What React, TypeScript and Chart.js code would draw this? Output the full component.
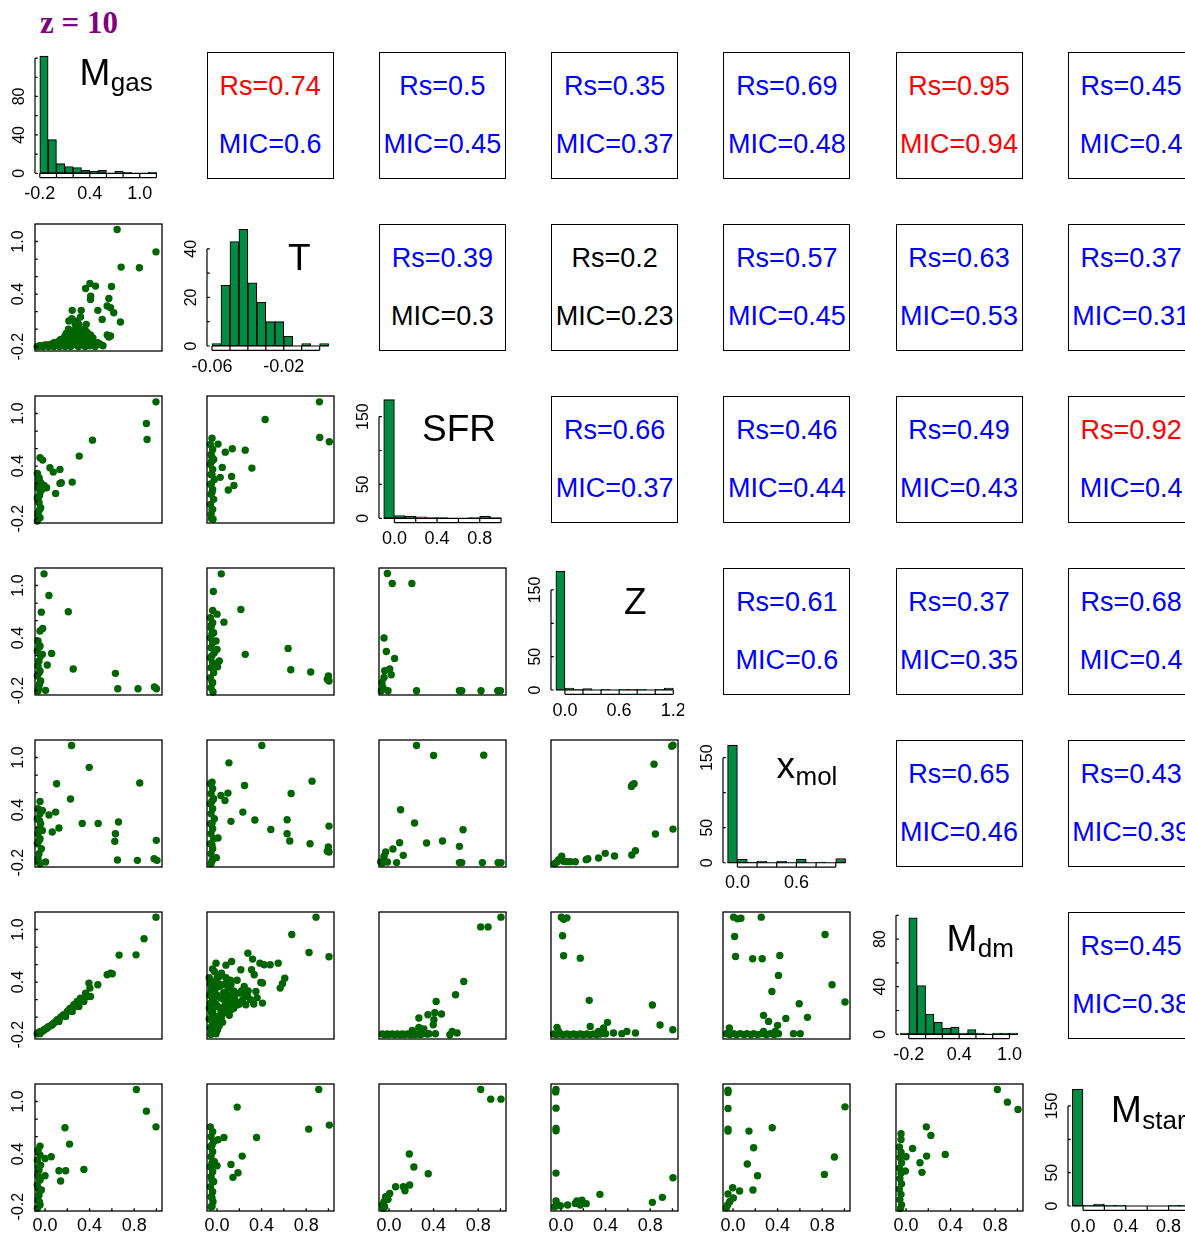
import React, { useEffect, useRef } from "react";
import { Chart, registerables } from "chart.js";
Chart.register(...registerables);

type Pt = [number, number];

// ---------------- Histogram data (diagonal) ----------------
const breaks_Mgas = [-0.2, -0.1, 0.0, 0.1, 0.2, 0.3, 0.4, 0.5, 0.6, 0.7, 0.8, 0.9, 1.0, 1.1, 1.2];
const counts_Mgas = [122, 35, 10, 7, 6, 3, 2, 3, 0, 2, 1, 0, 0, 1];
const breaks_T = [-0.06, -0.055, -0.05, -0.045, -0.04, -0.035, -0.03, -0.025, -0.02, -0.015, -0.01, -0.005, 0.0, 0.005];
const counts_T = [1, 25, 43, 48, 26, 18, 10, 10, 4, 0, 1, 0, 1];
const breaks_SFR = [-0.1, 0.0, 0.1, 0.2, 0.3, 0.4, 0.5, 0.6, 0.7, 0.8, 0.9, 1.0];
const counts_SFR = [175, 4, 3, 2, 1, 1, 0, 0, 1, 3, 1];
const breaks_Z = [-0.1, 0.0, 0.1, 0.2, 0.3, 0.4, 0.5, 0.6, 0.7, 0.8, 0.9, 1.0, 1.1, 1.2];
const counts_Z = [178, 3, 1, 2, 0, 1, 0, 1, 1, 1, 0, 1, 3];
const breaks_xmol = [-0.1, 0.0, 0.1, 0.2, 0.3, 0.4, 0.5, 0.6, 0.7, 0.8, 0.9, 1.0, 1.1];
const counts_xmol = [168, 5, 1, 2, 0, 2, 0, 5, 0, 1, 0, 6];
const breaks_Mdm = [-0.3, -0.2, -0.1, 0.0, 0.1, 0.2, 0.3, 0.4, 0.5, 0.6, 0.7, 0.8, 0.9, 1.0, 1.1];
const counts_Mdm = [1, 98, 41, 17, 10, 5, 6, 1, 4, 1, 0, 1, 1, 1];
const breaks_Mstar = [-0.1, 0.0, 0.1, 0.2, 0.3, 0.4, 0.5, 0.6, 0.7, 0.8, 0.9, 1.0];
const counts_Mstar = [175, 1, 3, 1, 1, 0, 0, 0, 0, 1, 1];

// histogram axis ticks / labels
const xTicks_Mgas = [-0.2, 0.0, 0.2, 0.4, 0.6, 0.8, 1.0, 1.2];
const xLabels_Mgas = [-0.2, 0.4, 1.0];
const xTicks_T = [-0.06, -0.05, -0.04, -0.03, -0.02, -0.01, 0.0];
const xLabels_T = [-0.06, -0.02];
const xTicks_SFR = [0.0, 0.2, 0.4, 0.6, 0.8, 1.0];
const xLabels_SFR = [0.0, 0.4, 0.8];
const xTicks_Z = [0.0, 0.2, 0.4, 0.6, 0.8, 1.0, 1.2];
const xLabels_Z = [0.0, 0.6, 1.2];
const xTicks_xmol = [0.0, 0.2, 0.4, 0.6, 0.8, 1.0];
const xLabels_xmol = [0.0, 0.6];
const xTicks_Mdm = [-0.2, 0.0, 0.2, 0.4, 0.6, 0.8, 1.0];
const xLabels_Mdm = [-0.2, 0.4, 1.0];
const xTicks_Mstar = [0.0, 0.2, 0.4, 0.6, 0.8, 1.0];
const xLabels_Mstar = [0.0, 0.4, 0.8];
const yTicks_Mgas = [0, 20, 40, 60, 80, 100, 120];
const yLabels_Mgas = [0, 40, 80];
const yTicks_T = [0, 10, 20, 30, 40];
const yLabels_T = [0, 20, 40];
const yTicks_150 = [0, 50, 100, 150];
const yLabels_150 = [0, 50, 150];
const yTicks_Mdm = [0, 20, 40, 60, 80, 100];
const yLabels_Mdm = [0, 40, 80];

// scatter axes
const scatterXTicks = [0.0, 0.2, 0.4, 0.6, 0.8, 1.0];
const scatterXLabels = [0.0, 0.4, 0.8];
const scatterYTicks = [-0.2, 0.0, 0.2, 0.4, 0.6, 0.8, 1.0];
const scatterYLabels = [-0.2, 0.4, 1.0];

// ---------------- Correlation boxes (upper triangle) ----------------
const rsValues = [
  [0.74, 0.5, 0.35, 0.69, 0.95, 0.45],
  [0.39, 0.2, 0.57, 0.63, 0.37],
  [0.66, 0.46, 0.49, 0.92],
  [0.61, 0.37, 0.68],
  [0.65, 0.43],
  [0.45],
];
const micValues = [
  [0.6, 0.45, 0.37, 0.48, 0.94, 0.4],
  [0.3, 0.23, 0.45, 0.53, 0.31],
  [0.37, 0.44, 0.43, 0.4],
  [0.6, 0.35, 0.4],
  [0.46, 0.39],
  [0.38],
];
const rsColors = [
  ["red", "blue", "blue", "blue", "red", "blue"],
  ["blue", "black", "blue", "blue", "blue"],
  ["blue", "blue", "blue", "red"],
  ["blue", "blue", "blue"],
  ["blue", "blue"],
  ["blue"],
];
const micColors = [
  ["blue", "blue", "blue", "blue", "red", "blue"],
  ["black", "black", "blue", "blue", "blue"],
  ["blue", "blue", "blue", "blue"],
  ["blue", "blue", "blue"],
  ["blue", "blue"],
  ["blue"],
];

// ---------------- Scatter data (lower triangle): [x, y] ----------------
const sc_T_Mgas: Pt[] = [
  [0.647, 1.137], [0.996, 0.882], [0.683, 0.708], [0.847, 0.7], [0.403, 0.521], [0.364, 0.464], [0.453, 0.491],
  [0.597, 0.487], [0.41, 0.377], [0.408, 0.339], [0.573, 0.35], [0.558, 0.263], [0.588, 0.244], [0.617, 0.187],
  [0.474, 0.214], [0.677, 0.081], [0.513, 0.111], [0.244, 0.214], [0.325, 0.214], [0.214, 0.092], [0.319, 0.138],
  [0.289, 0.092], [0.304, 0.054], [0.37, 0.054], [0.558, -0.068], [0.588, -0.079], [0.573, -0.09],
  [-0.054, -0.193], [-0.009, -0.193], [0.05, -0.174], [0.11, -0.166], [0.155, -0.155], [0.2, -0.136], [0.229, -0.117],
  [0.259, -0.098], [0.304, -0.09], [0.349, -0.079], [0.379, -0.117], [0.423, -0.136], [0.468, -0.155], [0.498, -0.174],
  [0.2, -0.06], [0.244, -0.022], [0.274, -0.003], [0.319, -0.041], [0.14, -0.117], [0.08, -0.155], [0.02, -0.182],
  [-0.039, -0.189], [0.334, -0.155], [0.394, -0.166], [0.289, -0.155], [0.214, -0.182], [0.364, -0.022], [0.408, -0.068],
  [0.17, -0.1], [0.26, -0.14], [0.22, -0.16], [0.12, -0.185], [0.3, -0.12], [0.44, -0.17], [0.25, -0.05], [0.18, -0.08],
  [0.35, -0.11], [0.28, -0.18], [0.4, -0.19], [0.06, -0.19], [0.23, -0.02], [0.28, 0.02],
  [-0.07, -0.2], [-0.02, -0.2], [0.03, -0.2], [0.08, -0.2], [0.13, -0.2], [0.18, -0.2], [0.23, -0.2], [0.3, -0.2],
  [0.36, -0.2], [0.45, -0.2], [0.52, -0.19], [0.0, -0.18], [0.1, -0.18], [0.16, -0.17], [0.25, -0.17], [0.33, -0.17],
  [0.42, -0.18], [0.48, -0.16], [0.15, -0.13], [0.22, -0.13], [0.28, -0.1], [0.33, -0.13], [0.26, -0.07], [0.31, -0.01],
  [0.21, 0.0], [0.27, 0.06], [0.24, 0.12], [0.35, 0.0], [0.38, -0.04], [0.43, -0.1], [0.19, -0.05], [0.12, -0.14],
];
const sc_SFR_Mgas: Pt[] = [
  [0.996, 1.133], [0.91, 0.886], [0.916, 0.704], [0.426, 0.696], [0.307, 0.514], [0.134, 0.362], [0.044, 0.381],
  [0.074, 0.331], [0.146, 0.21], [0.134, 0.202], [0.244, 0.217], [0.095, 0.088], [0.014, 0.153], [-0.009, 0.18],
  [-0.045, 0.495], [-0.021, 0.468],
  [-0.069, 0.316], [-0.054, 0.267], [-0.039, 0.21], [-0.063, 0.153], [-0.045, 0.096], [-0.069, 0.039], [-0.054, -0.018],
  [-0.039, -0.075], [-0.063, -0.132], [-0.045, -0.189], [-0.069, -0.227], [-0.033, 0.172], [-0.024, 0.134],
  [-0.06, 0.0], [-0.05, -0.1], [-0.06, 0.2], [-0.05, 0.06], [-0.065, -0.16], [-0.055, 0.25],
];
const sc_SFR_T: Pt[] = [
  [0.919, 1.133], [0.432, 0.932], [0.922, 0.727], [1.008, 0.677], [-0.045, 0.719], [0.009, 0.651], [0.137, 0.597],
  [0.074, 0.559], [0.253, 0.582], [0.047, 0.385], [0.313, 0.377], [0.131, 0.282], [0.029, 0.271], [0.152, 0.179],
  [0.101, 0.126],
  [-0.06, 0.647], [-0.039, 0.59], [-0.054, 0.533], [-0.03, 0.476], [-0.06, 0.419], [-0.039, 0.362], [-0.054, 0.305],
  [-0.024, 0.248], [-0.06, 0.191], [-0.039, 0.134], [-0.054, 0.077], [-0.03, 0.02], [-0.06, -0.037], [-0.039, -0.094],
  [-0.054, -0.151], [-0.036, -0.208], [-0.045, 0.5], [-0.045, 0.3], [-0.045, 0.1], [-0.045, -0.1], [-0.05, 0.45],
  [-0.05, 0.2], [-0.05, -0.2],
];
const sc_Z_Mgas: Pt[] = [
  [-0.009, 1.133], [0.035, 0.886], [0.209, 0.7], [-0.033, 0.696], [-0.021, 0.51], [-0.045, 0.48], [0.059, 0.225],
  [0.02, 0.092], [0.253, 0.046], [0.632, -0.003], [0.653, -0.178], [0.835, -0.178], [0.982, -0.159], [1.0, -0.178],
  [0.005, -0.197],
  [-0.063, 0.366], [-0.045, 0.309], [-0.069, 0.252], [-0.039, 0.195], [-0.054, 0.138], [-0.063, 0.081], [-0.045, 0.024],
  [-0.069, -0.033], [-0.039, -0.09], [-0.054, -0.147], [-0.063, -0.204], [-0.024, 0.214], [-0.055, 0.0], [-0.06, -0.18],
  [-0.05, 0.3], [-0.05, -0.12],
];
const sc_Z_T: Pt[] = [
  [0.038, 1.133], [-0.033, 0.932], [-0.039, 0.715], [0.0, 0.673], [0.062, 0.582], [0.214, 0.727], [0.253, 0.214],
  [0.638, 0.282], [0.662, 0.039], [0.841, 0.012], [1.0, -0.033], [1.005, -0.09], [0.99, -0.071], [0.02, 0.138],
  [0.005, 0.073], [0.0, 0.271], [-0.009, 0.366],
  [-0.06, 0.632], [-0.039, 0.575], [-0.054, 0.518], [-0.03, 0.461], [-0.06, 0.404], [-0.039, 0.347], [-0.054, 0.29],
  [-0.024, 0.233], [-0.06, 0.176], [-0.039, 0.119], [-0.054, 0.062], [-0.03, 0.005], [-0.06, -0.052], [-0.039, -0.109],
  [-0.054, -0.166], [-0.036, -0.216], [-0.045, 0.45], [-0.045, 0.2], [-0.045, -0.1], [-0.05, 0.55],
];
const sc_Z_SFR: Pt[] = [
  [-0.015, 1.137], [0.029, 1.023], [0.205, 1.023], [-0.045, 0.4], [-0.024, 0.247], [0.05, 0.168], [-0.039, 0.027],
  [0.006, 0.046], [0.02, -0.018], [-0.045, -0.049], [-0.063, -0.106], [-0.054, -0.163], [-0.069, -0.201], [-0.009, -0.201],
  [0.247, -0.201], [0.632, -0.201], [0.653, -0.201], [0.826, -0.201], [0.976, -0.201], [1.0, -0.201],
];
const sc_xmol_Mgas: Pt[] = [
  [0.238, 1.137], [0.397, 0.888], [0.104, 0.7], [0.85, 0.709], [0.229, 0.526], [-0.045, 0.499], [-0.024, 0.396],
  [0.095, 0.377], [0.035, 0.343], [0.334, 0.248], [0.477, 0.248], [0.659, 0.263], [0.125, 0.195], [0.065, 0.149],
  [0.632, 0.13], [0.626, 0.043], [0.999, 0.054], [0.65, -0.17], [0.829, -0.174], [0.979, -0.155], [1.005, -0.174],
  [0.005, -0.193],
  [-0.063, 0.415], [-0.045, 0.358], [-0.069, 0.301], [-0.039, 0.244], [-0.054, 0.187], [-0.063, 0.13], [-0.045, 0.073],
  [-0.069, 0.016], [-0.033, -0.041], [-0.054, -0.098], [-0.063, -0.155], [-0.045, -0.212], [-0.024, 0.168],
  [-0.055, 0.05], [-0.06, -0.19], [-0.05, 0.28],
];
const sc_xmol_T: Pt[] = [
  [0.402, 1.137], [0.107, 0.939], [0.853, 0.73], [-0.045, 0.719], [0.247, 0.681], [0.665, 0.59], [0.098, 0.594],
  [0.035, 0.567], [0.071, 0.51], [0.232, 0.377], [0.125, 0.271], [0.34, 0.286], [0.629, 0.29], [0.483, 0.179],
  [0.629, 0.13], [0.653, 0.046], [1.005, 0.217], [0.835, 0.016], [0.999, -0.022], [1.005, -0.079], [0.99, -0.07],
  [0.009, 0.081], [-0.006, -0.143],
  [-0.06, 0.7], [-0.039, 0.643], [-0.054, 0.586], [-0.03, 0.529], [-0.06, 0.472], [-0.039, 0.415], [-0.054, 0.358],
  [-0.024, 0.301], [-0.06, 0.244], [-0.039, 0.187], [-0.054, 0.13], [-0.03, 0.073], [-0.06, 0.016], [-0.039, -0.041],
  [-0.054, -0.098], [-0.036, -0.155], [-0.054, -0.212], [-0.045, 0.5], [-0.045, 0.25], [-0.045, 0.0], [-0.045, -0.18],
];
const sc_xmol_SFR: Pt[] = [
  [0.247, 1.137], [0.4, 1.023], [0.85, 1.027], [0.104, 0.404], [0.229, 0.252], [0.665, 0.176], [0.337, 0.024],
  [0.48, 0.046], [0.632, -0.014], [0.095, 0.027], [0.035, -0.045], [0.128, -0.117], [-0.03, -0.079], [-0.045, -0.128],
  [-0.051, -0.174], [-0.06, -0.204], [-0.075, -0.193], [-0.015, -0.193], [0.068, -0.2], [0.632, -0.2], [0.653, -0.2],
  [0.838, -0.2], [0.979, -0.2], [1.005, -0.2],
];
const sc_xmol_Z: Pt[] = [
  [0.994, 1.129], [1.005, 1.141], [0.835, 0.924], [0.641, 0.689], [0.632, 0.67], [0.656, 0.7], [1.005, 0.183],
  [0.847, 0.126], [0.668, -0.064], [0.635, -0.113], [0.48, -0.124], [0.397, -0.094], [0.337, -0.147], [0.241, -0.155],
  [0.226, -0.166], [0.006, -0.128], [-0.021, -0.166], [-0.036, -0.193], [-0.057, -0.212], [0.053, -0.189],
  [0.083, -0.189], [0.128, -0.189], [0.023, -0.185],
];
const sc_Mdm_Mgas: Pt[] = [
  [0.996, 1.141], [0.889, 0.894], [0.665, 0.708], [0.817, 0.711], [0.588, 0.502], [0.558, 0.483], [0.603, 0.495],
  [0.474, 0.369], [0.394, 0.388], [0.403, 0.331], [0.408, 0.236], [0.364, 0.274], [0.319, 0.217], [0.289, 0.179],
  [0.259, 0.141], [0.229, 0.103], [0.2, 0.065], [0.17, 0.027], [0.14, 0.0], [0.11, -0.03], [0.08, -0.068],
  [0.05, -0.098], [0.02, -0.125], [-0.009, -0.144], [-0.039, -0.163], [-0.063, -0.182], [0.349, 0.179], [0.304, 0.122],
  [0.244, 0.065], [0.185, 0.008], [0.125, -0.049], [0.065, -0.087], [0.005, -0.136], [-0.045, -0.189], [0.379, 0.236],
  [0.27, 0.12], [0.22, 0.09], [0.16, 0.02], [0.1, -0.05], [0.03, -0.11], [-0.02, -0.16], [-0.05, -0.17], [-0.07, -0.19],
];
const sc_Mdm_T: Pt[] = [
  [0.889, 1.141], [0.671, 0.943], [0.826, 0.738], [1.005, 0.689], [0.277, 0.73], [0.319, 0.662], [0.385, 0.616],
  [0.423, 0.597], [0.477, 0.597], [0.549, 0.616], [-0.009, 0.616], [0.08, 0.593], [0.131, 0.635], [0.214, 0.54],
  [0.334, 0.483], [0.31, 0.54], [0.608, 0.445], [0.587, 0.381], [0.567, 0.331], [0.408, 0.389], [0.393, 0.396],
  [-0.024, 0.521], [0.02, 0.464], [0.005, 0.388], [-0.039, 0.331], [0.05, 0.369], [0.125, 0.369], [0.244, 0.35],
  [0.2, 0.274], [0.274, 0.236], [0.349, 0.293], [0.259, 0.141], [0.408, 0.16], [0.155, 0.236], [0.095, 0.179],
  [0.185, 0.141], [0.125, 0.084], [0.035, 0.217],
  [-0.054, 0.274], [-0.024, 0.217], [-0.06, 0.16], [0.005, 0.122], [-0.039, 0.065], [0.035, 0.046], [-0.009, 0.008],
  [-0.054, -0.03], [0.02, -0.049], [-0.024, -0.087], [0.005, -0.144], [-0.009, -0.19], [0.065, 0.122], [-0.069, 0.103],
  [-0.048, -0.106], [0.06, 0.2], [0.1, 0.25], [0.15, 0.3], [0.04, 0.08], [-0.03, 0.4], [0.08, 0.45], [0.18, 0.42],
  [0.23, 0.2], [0.28, 0.3], [0.12, 0.15], [-0.05, -0.15], [0.0, -0.05],
  [-0.07, 0.45], [-0.06, 0.38], [-0.05, 0.32], [-0.065, 0.25], [-0.04, 0.2], [-0.06, 0.12], [-0.05, 0.05], [-0.07, -0.02],
  [-0.04, -0.06], [-0.06, -0.12], [-0.03, -0.18], [-0.055, -0.2], [-0.02, 0.3], [-0.01, 0.15], [0.0, 0.25], [0.02, 0.35],
  [0.03, 0.1], [0.04, 0.0], [0.06, 0.28], [0.07, 0.05], [0.09, 0.12], [0.1, 0.33], [0.11, 0.02], [0.13, 0.22],
  [0.15, 0.1], [0.17, 0.18], [0.2, 0.15], [0.22, 0.3], [0.25, 0.26], [0.3, 0.2], [0.33, 0.15], [0.36, 0.22],
  [0.02, -0.1], [-0.01, -0.13], [0.05, -0.06], [0.0, 0.45], [0.04, 0.5], [-0.04, 0.55], [0.08, 0.38], [0.12, 0.42],
];
const sc_Mdm_SFR: Pt[] = [
  [1.005, 1.141], [0.823, 1.03], [0.889, 1.03], [0.671, 0.407], [0.597, 0.255], [0.423, 0.179], [0.471, 0.035],
  [0.411, 0.05], [0.349, 0.027], [0.268, -0.011], [0.403, -0.03], [0.397, -0.087], [0.268, -0.117], [0.313, -0.136],
  [0.209, -0.152], [0.567, -0.163], [0.611, -0.182], [0.546, -0.201], [0.417, -0.19], [0.358, -0.19],
  [-0.06, -0.193], [-0.015, -0.193], [0.029, -0.193], [0.074, -0.193], [0.119, -0.193], [0.164, -0.193], [0.209, -0.193],
  [0.253, -0.193], [0.298, -0.193], [0.343, -0.193], [-0.04, -0.2], [0.0, -0.2], [0.05, -0.2], [0.1, -0.2], [0.14, -0.2],
  [0.19, -0.2], [0.23, -0.2], [0.28, -0.2],
];
const sc_Mdm_Z: Pt[] = [
  [0.003, 1.141], [0.053, 1.133], [0.023, 1.118], [0.014, 0.928], [0.023, 0.7], [0.173, 0.673], [0.253, 0.191],
  [0.82, 0.138], [0.889, -0.09], [1.003, -0.144], [0.262, -0.106], [0.417, -0.06], [0.382, -0.125], [0.337, -0.163],
  [0.471, -0.182], [0.591, -0.163], [0.668, -0.182], [0.546, -0.189], [-0.036, -0.117], [-0.021, -0.163],
  [-0.066, -0.193], [-0.006, -0.193], [0.053, -0.193], [0.113, -0.193], [0.173, -0.193], [0.232, -0.193], [0.292, -0.193],
  [0.352, -0.193], [-0.04, -0.2], [0.02, -0.2], [0.08, -0.2], [0.14, -0.2], [0.2, -0.2], [0.26, -0.2], [0.32, -0.2],
  [0.4, -0.19],
];
const sc_Mdm_xmol: Pt[] = [
  [0.006, 1.141], [0.041, 1.122], [0.071, 1.129], [0.253, 1.141], [0.826, 0.943], [0.014, 0.92], [0.023, 0.692],
  [0.176, 0.666], [0.262, 0.666], [0.42, 0.704], [0.408, 0.476], [0.889, 0.369], [0.349, 0.293], [1.005, 0.172],
  [0.594, 0.153], [0.274, 0.02], [0.319, -0.049], [0.4, -0.094], [0.474, -0.015], [0.668, -0.003], [-0.033, -0.125],
  [0.543, -0.189], [0.603, -0.189],
  [-0.06, -0.189], [0.006, -0.189], [0.065, -0.189], [0.125, -0.189], [0.185, -0.189], [0.259, -0.189], [0.334, -0.189],
  [0.408, -0.189], [0.274, -0.163], [0.379, -0.163], [-0.03, -0.2], [0.03, -0.2], [0.1, -0.2], [0.16, -0.2], [0.22, -0.2],
  [0.3, -0.2], [0.37, -0.2],
];
const sc_Mstar_Mgas: Pt[] = [
  [0.82, 1.137], [0.91, 0.89], [0.996, 0.711], [0.179, 0.7], [0.22, 0.514], [-0.045, 0.491], [0.056, 0.369],
  [0.0, 0.35], [0.349, 0.225], [0.125, 0.21], [0.185, 0.21], [0.14, 0.092], [0.0, 0.153],
  [-0.063, 0.445], [-0.045, 0.388], [-0.069, 0.331], [-0.039, 0.274], [-0.054, 0.217], [-0.063, 0.16], [-0.045, 0.103],
  [-0.069, 0.046], [-0.033, -0.011], [-0.054, -0.068], [-0.063, -0.125], [-0.045, -0.182], [-0.069, -0.22],
  [-0.055, 0.0], [-0.05, -0.15], [-0.06, 0.25], [-0.05, 0.12],
];
const sc_Mstar_T: Pt[] = [
  [0.913, 1.137], [0.181, 0.936], [0.823, 0.685], [1.008, 0.731], [0.062, 0.59], [0.009, 0.563], [0.355, 0.59],
  [0.226, 0.377], [0.125, 0.282], [0.0, 0.267], [0.188, 0.187], [0.143, 0.134],
  [-0.06, 0.711], [-0.039, 0.654], [-0.054, 0.597], [-0.03, 0.54], [-0.06, 0.483], [-0.039, 0.426], [-0.054, 0.369],
  [-0.024, 0.312], [-0.06, 0.255], [-0.039, 0.198], [-0.054, 0.141], [-0.03, 0.084], [-0.06, 0.027], [-0.039, -0.03],
  [-0.054, -0.087], [-0.036, -0.144], [-0.054, -0.201], [-0.045, 0.5], [-0.045, 0.3], [-0.045, 0.1], [-0.045, -0.1],
  [-0.045, -0.2],
];
const sc_Mstar_SFR: Pt[] = [
  [0.823, 1.137], [0.913, 1.027], [1.005, 1.027], [0.182, 0.4], [0.223, 0.252], [0.352, 0.176], [0.059, 0.027],
  [0.128, 0.027], [0.185, 0.046], [0.143, -0.018], [0.006, -0.049], [-0.03, -0.087], [-0.009, -0.117], [-0.045, -0.144],
  [-0.06, -0.182], [-0.039, -0.201], [-0.051, -0.22],
];
const sc_Mstar_Z: Pt[] = [
  [-0.045, 1.137], [-0.048, 1.11], [-0.045, 0.924], [-0.045, 0.692], [-0.045, 0.666], [-0.045, 0.183], [1.005, 0.13],
  [0.91, -0.094], [0.82, -0.151], [0.349, -0.06], [0.143, -0.136], [0.188, -0.128], [0.128, -0.163], [0.226, -0.166],
  [0.173, -0.182], [0.059, -0.182], [-0.045, -0.136], [-0.036, -0.174], [-0.006, -0.189], [-0.057, -0.201],
];
const sc_Mstar_xmol: Pt[] = [
  [-0.045, 1.129], [-0.045, 1.103], [-0.045, 0.92], [-0.045, 0.685], [-0.045, 0.662], [1.005, 0.939], [0.352, 0.7],
  [0.143, 0.662], [0.185, 0.472], [0.128, 0.286], [0.91, 0.366], [0.22, 0.153], [0.82, 0.168], [0.179, -0.011],
  [0.059, -0.022], [-0.003, 0.016], [-0.045, -0.056], [0.003, -0.102], [-0.03, -0.144], [-0.048, -0.182], [-0.06, -0.212],
];
const sc_Mstar_Mdm: Pt[] = [
  [0.82, 1.137], [0.91, 0.993], [1.005, 0.909], [0.182, 0.711], [0.223, 0.613], [0.059, 0.464], [0.352, 0.396],
  [0.185, 0.377], [0.125, 0.301], [0.143, 0.191], [0.0, 0.369], [-0.006, 0.206], [-0.045, 0.632], [-0.045, 0.567],
  [-0.06, 0.48], [-0.045, 0.42], [-0.055, 0.36], [-0.04, 0.3], [-0.06, 0.24], [-0.045, 0.18], [-0.055, 0.12],
  [-0.04, 0.06], [-0.06, 0.0], [-0.045, -0.06], [-0.055, -0.12], [-0.04, -0.18], [-0.05, -0.22],
];

const scatterData: Record<string, Pt[]> = {
  "1,0": sc_T_Mgas,
  "2,0": sc_SFR_Mgas, "2,1": sc_SFR_T,
  "3,0": sc_Z_Mgas, "3,1": sc_Z_T, "3,2": sc_Z_SFR,
  "4,0": sc_xmol_Mgas, "4,1": sc_xmol_T, "4,2": sc_xmol_SFR, "4,3": sc_xmol_Z,
  "5,0": sc_Mdm_Mgas, "5,1": sc_Mdm_T, "5,2": sc_Mdm_SFR, "5,3": sc_Mdm_Z, "5,4": sc_Mdm_xmol,
  "6,0": sc_Mstar_Mgas, "6,1": sc_Mstar_T, "6,2": sc_Mstar_SFR, "6,3": sc_Mstar_Z, "6,4": sc_Mstar_xmol, "6,5": sc_Mstar_Mdm,
};

// ---------------- Layout / style ----------------
const N = 7;
const BOX = 127;
const colX = (j: number) => 34.5 + 172.2 * j;
const rowY = (i: number) => 52 + 172 * i;
const PAD = { left: 38, top: 6, right: 6, bottom: 34 };
const TICK_LEN = 2.8;
const AXIS_GAP = 4.3;
const SANS = '"Liberation Sans", Arial, Helvetica, sans-serif';
const XFONT = `18px ${SANS}`;
const YFONT = `16px ${SANS}`;
const POINT_COLOR = "#006400";
const POINT_RADIUS = 3.7;
const HIST_FILL = "#008B45";
const COLORS: Record<string, string> = { red: "#FF0000", blue: "#0000FF", black: "#000000" };

type Hist = {
  breaks: number[]; counts: number[]; xRange: number[]; yRange: number[];
  xTicks: number[]; xLabels: number[]; yTicks: number[]; yLabels: number[]; digits: number;
  main: string; sub: string; dx: number; dy: number; subDy: number;
};

const histograms: Hist[] = [
  { breaks: breaks_Mgas, counts: counts_Mgas, xRange: [-0.2576, 1.267], yRange: [-5.94, 126.3], xTicks: xTicks_Mgas, xLabels: xLabels_Mgas, yTicks: yTicks_Mgas, yLabels: yLabels_Mgas, digits: 1, main: "M", sub: "gas", dx: 44.5, dy: 33, subDy: 5.7 },
  { breaks: breaks_T, counts: counts_T, xRange: [-0.06279, 0.008], yRange: [-2.06, 50.2], xTicks: xTicks_T, xLabels: xLabels_T, yTicks: yTicks_T, yLabels: yLabels_T, digits: 2, main: "T", sub: "", dx: 81, dy: 46, subDy: 0 },
  { breaks: breaks_SFR, counts: counts_SFR, xRange: [-0.1443, 1.046], yRange: [-6.93, 180.4], xTicks: xTicks_SFR, xLabels: xLabels_SFR, yTicks: yTicks_150, yLabels: yLabels_150, digits: 1, main: "SFR", sub: "", dx: 43, dy: 45, subDy: 0 },
  { breaks: breaks_Z, counts: counts_Z, xRange: [-0.154, 1.252], yRange: [-7.5, 182.9], xTicks: xTicks_Z, xLabels: xLabels_Z, yTicks: yTicks_150, yLabels: yLabels_150, digits: 1, main: "Z", sub: "", dx: 73, dy: 46, subDy: 0 },
  { breaks: breaks_xmol, counts: counts_xmol, xRange: [-0.1465, 1.145], yRange: [-6.1, 175.3], xTicks: xTicks_xmol, xLabels: xLabels_xmol, yTicks: yTicks_150, yLabels: yLabels_150, digits: 1, main: "x", sub: "mol", dx: 53.5, dy: 38, subDy: 7 },
  { breaks: breaks_Mdm, counts: counts_Mdm, xRange: [-0.3526, 1.161], yRange: [-3.95, 102.8], xTicks: xTicks_Mdm, xLabels: xLabels_Mdm, yTicks: yTicks_Mdm, yLabels: yLabels_Mdm, digits: 1, main: "M", sub: "dm", dx: 50.5, dy: 39, subDy: 6.3 },
  { breaks: breaks_Mstar, counts: counts_Mstar, xRange: [-0.14, 1.047], yRange: [-7.5, 182.9], xTicks: xTicks_Mstar, xLabels: xLabels_Mstar, yTicks: yTicks_150, yLabels: yLabels_150, digits: 1, main: "M", sub: "star", dx: 43, dy: 37.7, subDy: 7.6 },
];

function drawRotated(ctx: CanvasRenderingContext2D, x: number, y: number, text: string) {
  ctx.save();
  ctx.translate(x, y);
  ctx.rotate(-Math.PI / 2);
  ctx.fillText(text, 0, 0);
  ctx.restore();
}

const commonOptions = {
  animation: false as const,
  responsive: false,
  maintainAspectRatio: false,
  events: [] as any[],
  layout: { padding: { left: PAD.left, top: PAD.top, right: PAD.right, bottom: PAD.bottom } },
  plugins: { legend: { display: false }, tooltip: { enabled: false } },
};

function framePlugin(showX: boolean, showY: boolean) {
  return {
    id: "pairFrame",
    afterDatasetsDraw(chart: any) {
      const { ctx, chartArea: a, scales } = chart;
      ctx.save();
      ctx.strokeStyle = "#000";
      ctx.lineWidth = 1.3;
      ctx.strokeRect(a.left, a.top, a.width, a.height);
      ctx.fillStyle = "#000";
      ctx.textAlign = "center";
      ctx.textBaseline = "middle";
      if (showY) {
        ctx.beginPath();
        scatterYTicks.forEach((v) => {
          const py = scales.y.getPixelForValue(v);
          ctx.moveTo(a.left, py);
          ctx.lineTo(a.left + TICK_LEN, py);
        });
        ctx.stroke();
        ctx.font = YFONT;
        scatterYLabels.forEach((v) => drawRotated(ctx, a.left - 16, scales.y.getPixelForValue(v), v.toFixed(1)));
      }
      if (showX) {
        ctx.beginPath();
        scatterXTicks.forEach((v) => {
          const px = scales.x.getPixelForValue(v);
          ctx.moveTo(px, a.bottom);
          ctx.lineTo(px, a.bottom - TICK_LEN);
        });
        ctx.stroke();
        ctx.font = XFONT;
        scatterXLabels.forEach((v) => ctx.fillText(v.toFixed(1), scales.x.getPixelForValue(v), a.bottom + 15));
      }
      ctx.restore();
    },
  };
}

function histPlugin(h: Hist) {
  return {
    id: "histAxes",
    afterDatasetsDraw(chart: any) {
      const { ctx, chartArea: a, scales } = chart;
      const x = scales.x, y = scales.y;
      const zeroY = y.getPixelForValue(0);
      ctx.save();
      ctx.strokeStyle = "#000";
      ctx.lineWidth = 1.2;
      ctx.beginPath();
      ctx.moveTo(x.getPixelForValue(h.breaks[0]), zeroY);
      ctx.lineTo(x.getPixelForValue(h.breaks[h.breaks.length - 1]), zeroY);
      ctx.moveTo(a.left, zeroY);
      ctx.lineTo(a.left, y.getPixelForValue(h.yTicks[h.yTicks.length - 1]));
      h.yTicks.forEach((v) => {
        const py = y.getPixelForValue(v);
        ctx.moveTo(a.left, py);
        ctx.lineTo(a.left + TICK_LEN, py);
      });
      const axY = zeroY + AXIS_GAP;
      ctx.moveTo(x.getPixelForValue(h.xTicks[0]), axY);
      ctx.lineTo(x.getPixelForValue(h.xTicks[h.xTicks.length - 1]), axY);
      h.xTicks.forEach((v) => {
        const px = x.getPixelForValue(v);
        ctx.moveTo(px, axY);
        ctx.lineTo(px, zeroY);
      });
      ctx.stroke();
      ctx.fillStyle = "#000";
      ctx.textAlign = "center";
      ctx.textBaseline = "middle";
      ctx.font = YFONT;
      h.yLabels.forEach((v) => drawRotated(ctx, a.left - 15.5, y.getPixelForValue(v), String(v)));
      ctx.font = XFONT;
      h.xLabels.forEach((v) => ctx.fillText(v.toFixed(h.digits), x.getPixelForValue(v), axY + 16.5));
      ctx.textAlign = "left";
      ctx.textBaseline = "alphabetic";
      ctx.font = `37px ${SANS}`;
      const nx = a.left + h.dx, ny = a.top + h.dy;
      ctx.fillText(h.main, nx, ny);
      if (h.sub) {
        const w = ctx.measureText(h.main).width;
        ctx.font = `26px ${SANS}`;
        ctx.fillText(h.sub, nx + w + 0.5, ny + h.subDy);
      }
      ctx.restore();
    },
  };
}

function buildScatter(i: number, j: number) {
  const pts = scatterData[`${i},${j}`];
  return {
    type: "scatter",
    data: {
      datasets: [
        {
          data: pts.map(([x, y]) => ({ x, y })),
          pointRadius: POINT_RADIUS,
          pointHoverRadius: POINT_RADIUS,
          pointBackgroundColor: POINT_COLOR,
          pointBorderColor: POINT_COLOR,
          pointBorderWidth: 0,
          clip: false,
        },
      ],
    },
    options: {
      ...commonOptions,
      scales: {
        x: { type: "linear", min: -0.09, max: 1.05, display: false },
        y: { type: "linear", min: -0.25, max: 1.2, display: false },
      },
    },
    plugins: [framePlugin(i === N - 1, j === 0)],
  };
}

function buildHist(k: number) {
  const h = histograms[k];
  const centers = h.counts.map((_, b) => (h.breaks[b] + h.breaks[b + 1]) / 2);
  return {
    type: "bar",
    data: {
      datasets: [
        {
          data: centers.map((c, b) => ({ x: c, y: h.counts[b] })),
          backgroundColor: HIST_FILL,
          borderColor: "#000",
          borderWidth: 1.1,
          borderSkipped: false,
          barPercentage: 1,
          categoryPercentage: 1,
        },
      ],
    },
    options: {
      ...commonOptions,
      scales: {
        x: {
          type: "linear", min: h.xRange[0], max: h.xRange[1], offset: false, display: false,
          afterBuildTicks: (s: any) => { s.ticks = h.breaks.map((v) => ({ value: v })); },
        },
        y: { type: "linear", min: h.yRange[0], max: h.yRange[1], display: false },
      },
    },
    plugins: [histPlugin(h)],
  };
}

function ChartCell({ left, top, build }: { left: number; top: number; build: () => any }) {
  const ref = useRef<HTMLCanvasElement>(null);
  const w = PAD.left + BOX + PAD.right;
  const hgt = PAD.top + BOX + PAD.bottom;
  useEffect(() => {
    const chart = new Chart(ref.current as HTMLCanvasElement, build());
    return () => chart.destroy();
  }, []);
  return (
    <canvas
      ref={ref}
      width={w}
      height={hgt}
      style={{ position: "absolute", left: left - PAD.left, top: top - PAD.top, width: w, height: hgt }}
    />
  );
}

function StatBox({ i, j }: { i: number; j: number }) {
  const rs = rsValues[i][j - i - 1];
  const mic = micValues[i][j - i - 1];
  const textStyle = {
    position: "absolute" as const, left: 0, right: 0, textAlign: "center" as const,
    font: `27px ${SANS}`, lineHeight: "27px", whiteSpace: "nowrap" as const,
  };
  return (
    <div
      style={{
        position: "absolute", left: colX(j), top: rowY(i), width: BOX, height: BOX,
        boxSizing: "border-box", border: "1.3px solid #000",
      }}
    >
      <div style={{ ...textStyle, top: 19.8, color: COLORS[rsColors[i][j - i - 1]] }}>{`Rs=${rs}`}</div>
      <div style={{ ...textStyle, top: 78.2, color: COLORS[micColors[i][j - i - 1]] }}>{`MIC=${mic}`}</div>
    </div>
  );
}

export default function App() {
  const cells: React.ReactNode[] = [];
  for (let i = 0; i < N; i++) {
    for (let j = 0; j < N; j++) {
      const key = `${i}-${j}`;
      if (i === j) {
        cells.push(<ChartCell key={key} left={colX(j)} top={rowY(i)} build={() => buildHist(i)} />);
      } else if (i > j) {
        cells.push(<ChartCell key={key} left={colX(j)} top={rowY(i)} build={() => buildScatter(i, j)} />);
      } else {
        cells.push(<StatBox key={key} i={i} j={j} />);
      }
    }
  }
  return (
    <div style={{ position: "fixed", left: 0, top: 0, width: 1185, height: 1235, overflow: "hidden", background: "#fff" }}>
      <div
        style={{
          position: "absolute", left: 40, top: 6.7, color: "#800080", whiteSpace: "nowrap",
          font: 'bold 31px "Liberation Serif", "Times New Roman", serif', lineHeight: "31px",
        }}
      >
        z = 10
      </div>
      {cells}
    </div>
  );
}
